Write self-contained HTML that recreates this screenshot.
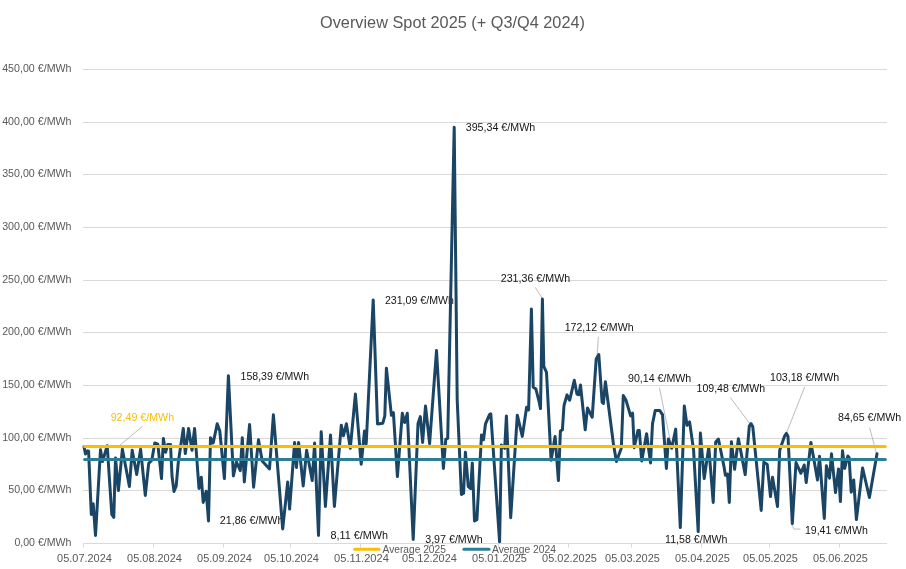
<!DOCTYPE html>
<html><head><meta charset="utf-8"><style>
html,body{margin:0;padding:0;background:#fff;overflow:hidden;}
svg{display:block;font-family:"Liberation Sans",sans-serif;will-change:transform;}
</style></head><body>
<svg width="906" height="569" viewBox="0 0 906 569">
<rect width="906" height="569" fill="#fff"/>
<g stroke="#d9d9d9" stroke-width="1" fill="none"><line x1="83" y1="490.5" x2="887" y2="490.5"/><line x1="83" y1="438.5" x2="887" y2="438.5"/><line x1="83" y1="385.5" x2="887" y2="385.5"/><line x1="83" y1="332.5" x2="887" y2="332.5"/><line x1="83" y1="280.5" x2="887" y2="280.5"/><line x1="83" y1="227.5" x2="887" y2="227.5"/><line x1="83" y1="174.5" x2="887" y2="174.5"/><line x1="83" y1="122.5" x2="887" y2="122.5"/><line x1="83" y1="69.5" x2="887" y2="69.5"/><line x1="83" y1="543.5" x2="887" y2="543.5"/><line x1="83.5" y1="543.5" x2="83.5" y2="547.5"/><line x1="153.5" y1="543.5" x2="153.5" y2="547.5"/><line x1="223.5" y1="543.5" x2="223.5" y2="547.5"/><line x1="290.5" y1="543.5" x2="290.5" y2="547.5"/><line x1="360.5" y1="543.5" x2="360.5" y2="547.5"/><line x1="428.5" y1="543.5" x2="428.5" y2="547.5"/><line x1="498.5" y1="543.5" x2="498.5" y2="547.5"/><line x1="568.5" y1="543.5" x2="568.5" y2="547.5"/><line x1="631.5" y1="543.5" x2="631.5" y2="547.5"/><line x1="701.5" y1="543.5" x2="701.5" y2="547.5"/><line x1="769.5" y1="543.5" x2="769.5" y2="547.5"/><line x1="839.5" y1="543.5" x2="839.5" y2="547.5"/></g>
<g font-size="11.4" fill="#595959"><text x="14.4" y="546.0" text-anchor="start" textLength="57.1" lengthAdjust="spacingAndGlyphs">0,00 €/MWh</text><text x="8.3" y="493.3" text-anchor="start" textLength="63.2" lengthAdjust="spacingAndGlyphs">50,00 €/MWh</text><text x="2.2" y="440.7" text-anchor="start" textLength="69.3" lengthAdjust="spacingAndGlyphs">100,00 €/MWh</text><text x="2.2" y="388.0" text-anchor="start" textLength="69.3" lengthAdjust="spacingAndGlyphs">150,00 €/MWh</text><text x="2.2" y="335.3" text-anchor="start" textLength="69.3" lengthAdjust="spacingAndGlyphs">200,00 €/MWh</text><text x="2.2" y="282.7" text-anchor="start" textLength="69.3" lengthAdjust="spacingAndGlyphs">250,00 €/MWh</text><text x="2.2" y="230.0" text-anchor="start" textLength="69.3" lengthAdjust="spacingAndGlyphs">300,00 €/MWh</text><text x="2.2" y="177.3" text-anchor="start" textLength="69.3" lengthAdjust="spacingAndGlyphs">350,00 €/MWh</text><text x="2.2" y="124.7" text-anchor="start" textLength="69.3" lengthAdjust="spacingAndGlyphs">400,00 €/MWh</text><text x="2.2" y="72.0" text-anchor="start" textLength="69.3" lengthAdjust="spacingAndGlyphs">450,00 €/MWh</text><text x="57.1" y="561.7" text-anchor="start" textLength="54.8" lengthAdjust="spacingAndGlyphs">05.07.2024</text><text x="127.1" y="561.7" text-anchor="start" textLength="54.8" lengthAdjust="spacingAndGlyphs">05.08.2024</text><text x="197.1" y="561.7" text-anchor="start" textLength="54.8" lengthAdjust="spacingAndGlyphs">05.09.2024</text><text x="264.1" y="561.7" text-anchor="start" textLength="54.8" lengthAdjust="spacingAndGlyphs">05.10.2024</text><text x="334.1" y="561.7" text-anchor="start" textLength="54.8" lengthAdjust="spacingAndGlyphs">05.11.2024</text><text x="402.1" y="561.7" text-anchor="start" textLength="54.8" lengthAdjust="spacingAndGlyphs">05.12.2024</text><text x="472.1" y="561.7" text-anchor="start" textLength="54.8" lengthAdjust="spacingAndGlyphs">05.01.2025</text><text x="542.1" y="561.7" text-anchor="start" textLength="54.8" lengthAdjust="spacingAndGlyphs">05.02.2025</text><text x="605.1" y="561.7" text-anchor="start" textLength="54.8" lengthAdjust="spacingAndGlyphs">05.03.2025</text><text x="675.1" y="561.7" text-anchor="start" textLength="54.8" lengthAdjust="spacingAndGlyphs">05.04.2025</text><text x="743.1" y="561.7" text-anchor="start" textLength="54.8" lengthAdjust="spacingAndGlyphs">05.05.2025</text><text x="813.1" y="561.7" text-anchor="start" textLength="54.8" lengthAdjust="spacingAndGlyphs">05.06.2025</text></g>
<text x="320" y="27.6" font-size="16.5" fill="#595959" textLength="265" lengthAdjust="spacingAndGlyphs">Overview Spot 2025 (+ Q3/Q4 2024)</text>
<g font-size="11.4" fill="#141414"><text x="240.5" y="379.6" text-anchor="start" textLength="68.7" lengthAdjust="spacingAndGlyphs">158,39 €/MWh</text><text x="219.8" y="524.2" text-anchor="start" textLength="63.6" lengthAdjust="spacingAndGlyphs">21,86 €/MWh</text><text x="384.9" y="303.8" text-anchor="start" textLength="69.0" lengthAdjust="spacingAndGlyphs">231,09 €/MWh</text><text x="330.5" y="539.4" text-anchor="start" textLength="57.5" lengthAdjust="spacingAndGlyphs">8,11 €/MWh</text><text x="465.7" y="130.5" text-anchor="start" textLength="69.5" lengthAdjust="spacingAndGlyphs">395,34 €/MWh</text><text x="425.2" y="542.6" text-anchor="start" textLength="57.6" lengthAdjust="spacingAndGlyphs">3,97 €/MWh</text><text x="500.7" y="281.5" text-anchor="start" textLength="69.5" lengthAdjust="spacingAndGlyphs">231,36 €/MWh</text><text x="564.7" y="330.9" text-anchor="start" textLength="68.9" lengthAdjust="spacingAndGlyphs">172,12 €/MWh</text><text x="628.0" y="382.0" text-anchor="start" textLength="63.3" lengthAdjust="spacingAndGlyphs">90,14 €/MWh</text><text x="696.6" y="391.6" text-anchor="start" textLength="68.5" lengthAdjust="spacingAndGlyphs">109,48 €/MWh</text><text x="770.0" y="380.6" text-anchor="start" textLength="69.1" lengthAdjust="spacingAndGlyphs">103,18 €/MWh</text><text x="838.0" y="421.4" text-anchor="start" textLength="63.3" lengthAdjust="spacingAndGlyphs">84,65 €/MWh</text><text x="665.1" y="542.8" text-anchor="start" textLength="62.3" lengthAdjust="spacingAndGlyphs">11,58 €/MWh</text><text x="804.9" y="533.8" text-anchor="start" textLength="62.9" lengthAdjust="spacingAndGlyphs">19,41 €/MWh</text></g>
<text x="110.7" y="420.8" font-size="11.4" fill="#fdbd02" textLength="63.4" lengthAdjust="spacingAndGlyphs">92,49 €/MWh</text>
<g stroke="#a6a6a6" stroke-width="0.75" fill="none"><polyline points="142.5,426.3 118.5,446.3"/><polyline points="535.1,287.2 542.4,298.4"/><polyline points="598.4,336.6 596.7,360.6"/><polyline points="659.4,387.5 671.7,447.7"/><polyline points="730.3,397.5 752.5,427.2"/><polyline points="804.7,386.9 786.5,432.8"/><polyline points="869.6,427.7 876.5,453.4"/><polyline points="791.7,523.8 793.9,529.1 800.5,529.1"/></g>
<path d="M84.0,446.8 L85.5,454.0 L87.5,450.8 L88.6,451.2 L91.3,514.4 L93.2,503.8 L95.5,535.5 L100.5,449.7 L102.5,461.6 L107.2,445.7 L111.8,514.4 L113.8,517.3 L115.5,458.0 L118.4,490.5 L122.4,449.2 L129.4,486.5 L132.2,450.2 L136.7,474.6 L140.6,449.2 L145.3,495.4 L148.7,463.4 L151.8,460.3 L154.8,443.0 L157.8,444.2 L161.5,478.6 L163.4,438.4 L165.6,452.3 L167.7,444.6 L170.5,444.6 L172.0,476.0 L174.0,491.5 L176.2,486.0 L178.3,462.2 L183.3,428.5 L185.3,453.6 L188.6,428.5 L192.0,450.3 L194.6,428.5 L199.0,488.5 L201.3,477.3 L203.2,502.4 L206.2,491.2 L208.5,521.0 L210.5,437.7 L213.2,443.0 L217.2,423.8 L219.8,431.1 L224.4,478.6 L228.4,375.8 L233.4,476.0 L236.5,462.0 L240.3,470.6 L242.3,437.7 L244.3,481.9 L249.6,424.5 L253.6,487.2 L258.5,439.7 L262.2,461.0 L269.5,468.9 L273.4,414.8 L282.7,528.9 L287.7,481.9 L289.6,509.1 L294.6,442.4 L296.4,467.5 L298.6,442.4 L303.2,485.9 L306.6,450.3 L312.2,480.6 L314.6,443.0 L318.5,535.5 L321.2,431.8 L325.4,506.4 L330.5,435.1 L334.4,506.4 L341.3,425.2 L343.4,435.8 L346.4,423.8 L350.3,448.3 L355.4,394.1 L361.2,464.2 L364.5,431.1 L366.2,443.7 L373.2,299.9 L377.5,423.9 L382.8,423.2 L384.8,415.9 L386.4,368.2 L391.4,415.3 L393.4,412.6 L397.4,476.6 L402.3,413.3 L404.6,422.5 L407.3,413.3 L413.2,539.5 L418.0,423.8 L420.3,416.6 L422.6,442.4 L425.5,406.0 L429.6,443.7 L436.5,350.5 L443.4,468.5 L445.8,439.1 L447.7,438.4 L454.2,127.2 L457.2,400.0 L461.4,494.5 L463.6,493.2 L465.4,452.3 L468.3,486.5 L470.7,488.5 L472.3,462.9 L474.5,521.0 L476.9,519.7 L481.5,435.1 L483.5,439.7 L485.5,423.8 L489.5,414.6 L490.8,413.9 L499.6,541.8 L501.4,445.0 L504.7,448.3 L506.4,415.9 L510.7,517.7 L517.3,415.2 L522.3,436.4 L526.6,407.3 L528.6,410.0 L531.4,309.0 L533.2,387.0 L535.9,389.0 L539.2,402.2 L540.5,408.6 L542.4,299.1 L543.8,366.4 L546.5,372.4 L551.1,460.3 L555.1,436.4 L558.4,480.6 L560.4,431.1 L562.4,429.8 L564.0,405.5 L567.0,394.9 L569.7,400.2 L574.3,380.3 L577.0,394.2 L578.8,394.8 L580.5,385.0 L585.2,429.8 L587.5,408.0 L592.2,417.2 L596.2,359.1 L598.8,354.5 L602.1,402.2 L603.4,403.5 L605.4,381.7 L613.4,443.7 L616.4,461.6 L621.3,448.3 L623.3,395.6 L626.0,400.2 L630.6,415.9 L632.6,413.2 L634.2,447.7 L637.9,430.5 L639.3,430.5 L641.7,461.0 L646.6,433.8 L650.5,462.9 L652.5,423.8 L655.2,410.6 L659.8,410.6 L662.5,414.6 L666.4,468.5 L668.4,439.1 L671.7,448.3 L675.7,429.1 L680.3,527.6 L684.3,406.0 L687.0,425.2 L689.6,421.9 L693.6,450.3 L698.2,531.6 L700.4,433.0 L704.2,478.6 L708.8,447.0 L713.2,502.4 L715.7,442.0 L718.4,439.0 L724.0,466.6 L725.4,475.3 L727.5,474.0 L729.3,502.4 L731.4,441.7 L734.6,469.3 L738.4,438.7 L745.2,474.6 L749.3,426.0 L751.0,423.6 L752.8,426.8 L761.2,510.4 L763.8,462.3 L767.2,464.2 L770.5,496.5 L772.5,477.3 L777.5,506.4 L779.7,450.3 L784.6,436.0 L786.4,433.4 L788.0,436.5 L792.3,523.6 L796.0,462.5 L800.9,473.3 L804.2,465.0 L806.2,482.6 L810.9,442.4 L817.5,479.9 L819.5,456.3 L824.3,518.5 L826.4,465.8 L829.5,478.2 L831.5,453.8 L835.5,492.6 L838.5,468.9 L840.4,501.6 L842.5,450.8 L844.7,468.4 L847.8,456.0 L849.1,457.4 L851.2,492.2 L853.7,479.9 L856.4,519.6 L862.6,468.0 L869.4,497.5 L877.0,453.8" fill="none" stroke="#1a4565" stroke-width="3" stroke-linejoin="round" stroke-linecap="round"/>
<line x1="84.6" y1="446.5" x2="885.3" y2="446.5" stroke="#fdbd02" stroke-width="3" stroke-linecap="round"/>
<line x1="84.6" y1="459.5" x2="885.3" y2="459.5" stroke="#2b7e96" stroke-width="3" stroke-linecap="round"/>
<line x1="354.6" y1="549.3" x2="379" y2="549.3" stroke="#fdbd02" stroke-width="3" stroke-linecap="round"/>
<line x1="463.9" y1="549.3" x2="489" y2="549.3" stroke="#2b7e96" stroke-width="3" stroke-linecap="round"/>
<g font-size="11.4" fill="#595959"><text x="382.5" y="552.5" text-anchor="start" textLength="63.4" lengthAdjust="spacingAndGlyphs">Average 2025</text><text x="492.0" y="552.5" text-anchor="start" textLength="63.9" lengthAdjust="spacingAndGlyphs">Average 2024</text></g>
</svg>
</body></html>
